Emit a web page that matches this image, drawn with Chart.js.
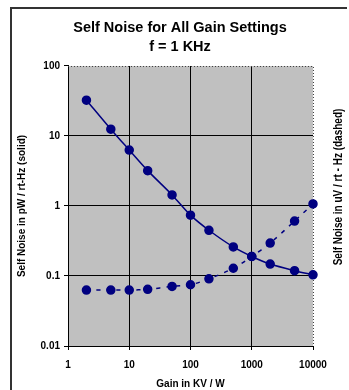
<!DOCTYPE html>
<html>
<head>
<meta charset="utf-8">
<script src="https://cdn.jsdelivr.net/npm/chart.js@4.4.1/dist/chart.umd.min.js"></script>
<style>
  html, body { margin: 0; padding: 0; background: #fff; }
  #noiseChart { display: block; }
</style>
</head>
<body>
<canvas id="noiseChart" width="349" height="390"></canvas>
<script>
// Gain settings (KV / W)
const gains = [2, 5, 10, 20, 50, 100, 200, 500, 1000, 2000, 5000, 10000];
// Self noise in pW / rt-Hz (solid line)
const noisePw = [32.5, 12.5, 6.3, 3.2, 1.44, 0.74, 0.45, 0.26, 0.19, 0.148, 0.119, 0.104];
// Self noise in uV / rt-Hz (dashed line)
const noiseUv = [0.063, 0.063, 0.063, 0.0645, 0.071, 0.075, 0.091, 0.129, 0.19, 0.295, 0.61, 1.07];

const xTicks = [1, 10, 100, 1000, 10000];
const yTicks = [0.01, 0.1, 1, 10, 100];

const NAVY = '#000080';
const FONT = "'Liberation Sans', Arial, sans-serif";

Chart.defaults.font.family = FONT;
Chart.defaults.color = '#000';

// Grey plot area, dotted frame, outer border and the right-hand axis title
const decor = {
  id: 'decor',
  beforeDraw(chart) {
    const { ctx, chartArea: a } = chart;
    ctx.save();
    ctx.fillStyle = '#fff';
    ctx.fillRect(0, 0, chart.width, chart.height);
    ctx.fillStyle = '#c0c0c0';
    ctx.fillRect(a.left, a.top, a.right - a.left, a.bottom - a.top);
    ctx.restore();
  },
  beforeDatasetsDraw(chart) {
    const { ctx, chartArea: a } = chart;
    ctx.save();
    ctx.strokeStyle = '#404040';
    ctx.lineWidth = 1;
    ctx.setLineDash([1, 2]);
    ctx.beginPath();
    ctx.moveTo(a.left, a.top + 0.5);
    ctx.lineTo(a.right + 0.5, a.top + 0.5);
    ctx.lineTo(a.right + 0.5, a.bottom);
    ctx.stroke();
    ctx.restore();
  },
  afterDraw(chart) {
    const { ctx } = chart;
    ctx.save();
    // outer frame (only left and top show in the picture)
    ctx.strokeStyle = '#333';
    ctx.lineWidth = 2;
    ctx.beginPath();
    ctx.moveTo(11, chart.height);
    ctx.lineTo(11, 8);
    ctx.lineTo(chart.width - 2, 8);
    ctx.stroke();

    // secondary axis title, drawn upward
    ctx.translate(339, 187);
    ctx.rotate(-Math.PI / 2);
    ctx.scale(1, 1.2);
    ctx.fillStyle = '#000';
    ctx.font = 'bold 10px ' + FONT;
    ctx.textAlign = 'center';
    ctx.textBaseline = 'middle';
    ctx.fillText('Self Noise in uV / rt - Hz (dashed)', 0, 0);
    ctx.restore();
  }
};

const fmt = v => String(v);

new Chart(document.getElementById('noiseChart'), {
  type: 'scatter',
  data: {
    datasets: [
      {
        label: 'pW / rt-Hz',
        data: gains.map((g, i) => ({ x: g, y: noisePw[i] })),
        showLine: true,
        tension: 0.3,
        borderColor: NAVY,
        borderWidth: 1.5,
        pointRadius: 4,
        pointBackgroundColor: NAVY,
        pointBorderColor: NAVY,
        clip: false
      },
      {
        label: 'uV / rt-Hz',
        data: gains.map((g, i) => ({ x: g, y: noiseUv[i] })),
        showLine: true,
        tension: 0.3,
        borderColor: NAVY,
        borderWidth: 1.5,
        borderDash: [4, 6],
        pointRadius: 4,
        pointBackgroundColor: NAVY,
        pointBorderColor: NAVY,
        clip: false
      }
    ]
  },
  options: {
    responsive: false,
    animation: false,
    layout: { padding: { left: 11, right: 0, top: 0, bottom: 0 } },
    plugins: {
      legend: { display: false },
      tooltip: { enabled: false },
      title: {
        display: true,
        text: ['Self Noise for All Gain Settings', 'f = 1 KHz'],
        font: { size: 14.5, weight: 'bold', lineHeight: 1.31 },
        color: '#000',
        padding: { top: 18.5, bottom: 9.5 }
      }
    },
    scales: {
      x: {
        type: 'logarithmic',
        position: 'bottom',
        min: 1,
        max: 10000,
        afterBuildTicks: s => { s.ticks = xTicks.map(v => ({ value: v })); },
        afterFit: s => { s.height = 44; },
        ticks: {
          callback: fmt,
          autoSkip: false,
          maxRotation: 0,
          padding: 9,
          color: '#000',
          font: { size: 10, weight: 'bold' }
        },
        grid: {
          color: c => (c.tick && c.tick.value === 10000 ? 'rgba(0,0,0,0)' : '#000'),
          tickColor: '#000',
          tickLength: 4,
          lineWidth: 1
        },
        border: { display: true, color: '#000', width: 1 },
        title: {
          display: true,
          text: 'Gain in KV / W',
          color: '#000',
          font: { size: 10, weight: 'bold' },
          padding: { top: 0, bottom: 0 }
        }
      },
      y: {
        type: 'logarithmic',
        position: 'left',
        min: 0.01,
        max: 100,
        afterBuildTicks: s => { s.ticks = yTicks.map(v => ({ value: v })); },
        afterFit: s => { s.width = 57; },
        ticks: {
          callback: fmt,
          padding: 4,
          color: '#000',
          font: { size: 10, weight: 'bold' }
        },
        grid: {
          color: c => (c.tick && c.tick.value === 100 ? 'rgba(0,0,0,0)' : '#000'),
          tickColor: '#000',
          tickLength: 4,
          lineWidth: 1
        },
        border: { display: true, color: '#000', width: 1 },
        title: {
          display: true,
          text: 'Self Noise in pW / rt-Hz (solid)',
          color: '#000',
          font: { size: 10, weight: 'bold' },
          padding: { top: 5, bottom: 0 }
        }
      },
      y2: {
        type: 'linear',
        axis: 'y',
        position: 'right',
        display: true,
        afterFit: s => { s.width = 36; },
        ticks: { display: false },
        grid: { display: false, drawTicks: false },
        border: { display: false }
      }
    }
  },
  plugins: [decor]
});
</script>
</body>
</html>
